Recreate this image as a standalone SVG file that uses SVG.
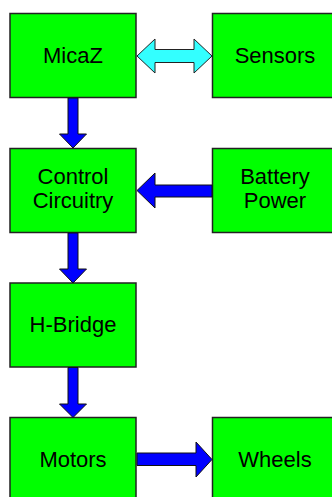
<svg xmlns="http://www.w3.org/2000/svg" width="332" height="497" viewBox="0 0 332 497">
<style>
.box{fill:#00ff00;stroke:#222;stroke-width:1.5}
.lbl{font-family:"Liberation Sans",Arial,sans-serif;font-size:22px;fill:#000;text-anchor:middle}
.blue{fill:#0000ff;stroke:#111;stroke-width:1}
.cyan{fill:#33ffff;stroke:#222;stroke-width:1}
</style>
<rect width="332" height="497" fill="#fff"/>
<g id="micaz"><rect class="box" x="10" y="13.5" width="126" height="84"/><text class="lbl" x="73" y="62.5">MicaZ</text></g>
<g id="sensors"><rect class="box" x="212.5" y="13.5" width="126" height="84"/><text class="lbl" x="275" y="62.5">Sensors</text></g>
<g id="control"><rect class="box" x="10" y="148.5" width="126" height="84"/><text class="lbl" x="73" y="183.5">Control</text><text class="lbl" x="73" y="207.5">Circuitry</text></g>
<g id="battery"><rect class="box" x="212.5" y="148.5" width="126" height="84"/><text class="lbl" x="275" y="183.5">Battery</text><text class="lbl" x="275" y="207.5">Power</text></g>
<g id="hbridge"><rect class="box" x="10" y="283" width="126" height="84"/><text class="lbl" x="73" y="332">H-Bridge</text></g>
<g id="motors"><rect class="box" x="10" y="417.5" width="126" height="84"/><text class="lbl" x="73" y="466.5">Motors</text></g>
<g id="wheels"><rect class="box" x="212.5" y="417.5" width="126" height="84"/><text class="lbl" x="275" y="466.5">Wheels</text></g>
<g id="connectors">
<polygon class="cyan" points="137,56 155,39 155,49.5 194,49.5 194,39 212,56 194,73 194,62.5 155,62.5 155,73"/>
<polygon class="blue" points="68,98 78,98 78,134 86.5,134 73,148 59.5,134 68,134"/>
<polygon class="blue" points="212,185 155,185 155,173 137,190.5 155,208 155,197 212,197"/>
<polygon class="blue" points="68,233 78,233 78,269 86.5,269 73,283 59.5,269 68,269"/>
<polygon class="blue" points="68,367.5 78,367.5 78,404 86.5,404 73,417.5 59.5,404 68,404"/>
<polygon class="blue" points="137,453 196,453 196,442 212,459.5 196,477 196,465.5 137,465.5"/>
</g>
</svg>
